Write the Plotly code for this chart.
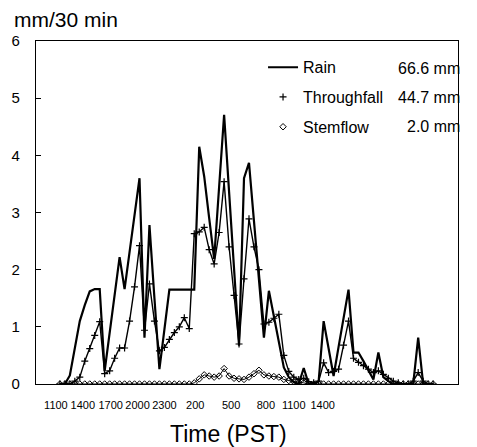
import plotly.graph_objects as go

# ---- data (30-min intervals, index 0 = 1100 PST) ----
rain = [
    0, 0, 0.15, 0.6, 1.1, 1.38, 1.62, 1.66, 1.66, 0.23,
    0.9, 1.55, 2.22, 1.66, 2.3, 2.95, 3.6, 0.81, 2.78, 1.5,
    0.26, 0.95, 1.65, 1.65, 1.65, 1.65, 1.65, 1.65, 4.15, 3.63,
    2.9, 2.19, 3.45, 4.71, 3.36, 2.0, 0.67, 3.6, 3.87, 2.85,
    1.83, 0.81, 1.63, 1.18, 0.74, 0.29, 0.12, 0.03, 0.0, 0.28,
    0.0, 0.0, 0.05, 1.1, 0.62, 0.14, 0.65, 1.15, 1.65, 0.55,
    0.55, 0.4, 0.25, 0.08, 0.55, 0.12, 0.05, 0, 0, 0,
    0, 0, 0.81, 0, 0, 0,
]
throughfall = [
    0, 0, 0, 0.05, 0.12, 0.4, 0.62, 0.85, 1.09, 0.18,
    0.23, 0.45, 0.63, 0.63, 1.1, 1.7, 2.42, 0.94, 1.75, 1.1,
    0.58, 0.64, 0.78, 0.9, 1.0, 1.16, 0.97, 2.63, 2.66, 2.74,
    2.35, 2.1, 2.65, 3.54, 2.4, 1.55, 0.7, 1.84, 2.89, 2.4,
    2.0, 1.05, 1.08, 1.15, 1.22, 0.5, 0.22, 0.12, 0.08, 0.1,
    0.04, 0.02, 0.05, 0.37, 0.2, 0.22, 0.26, 0.68, 1.1, 0.45,
    0.38, 0.32, 0.26, 0.2, 0.23, 0.17, 0.1, 0.05, 0.02, 0,
    0, 0.05, 0.2, 0.05, 0, 0,
]
stemflow = [
    0, 0, 0, 0, 0, 0, 0, 0, 0, 0,
    0, 0, 0, 0, 0, 0, 0, 0, 0, 0,
    0, 0, 0, 0, 0, 0, 0, 0.02, 0.09, 0.16,
    0.14, 0.12, 0.14, 0.27, 0.14, 0.1, 0.09, 0.08, 0.12, 0.18,
    0.24, 0.16, 0.14, 0.13, 0.12, 0.08, 0.06, 0.04, 0.03, 0.02,
    0, 0, 0, 0, 0, 0, 0, 0, 0, 0,
    0, 0, 0, 0, 0, 0, 0, 0, 0, 0,
    0, 0, 0, 0, 0, 0,
]
series_names = ["Rain", "Throughfall", "Stemflow"]
series_totals = ["66.6 mm", "44.7 mm", "2.0 mm"]
tick_labels = ["1100", "1400", "1700", "2000", "2300", "200", "500", "800", "1100", "1400"]
tick_at = [-0.8, 4.6, 10.2, 15.6, 21.0, 27.2, 34.4, 41.4, 47.0, 52.8]

x = list(range(len(rain)))
FONT = "Liberation Sans, Arial, Helvetica, sans-serif"

fig = go.Figure()
fig.add_trace(go.Scatter(x=x, y=stemflow, mode="lines+markers", showlegend=False,
                         line=dict(color="black", width=1),
                         marker=dict(symbol="diamond-open", size=5, color="black",
                                     line=dict(width=1, color="black"))))
fig.add_trace(go.Scatter(x=x, y=throughfall, mode="lines+markers", showlegend=False,
                         line=dict(color="black", width=1.4),
                         marker=dict(symbol="cross-thin", size=5, color="black",
                                     line=dict(width=1.2, color="black"))))
fig.add_trace(go.Scatter(x=x, y=rain, mode="lines", showlegend=False,
                         line=dict(color="black", width=2.2)))

# legend keys
fig.add_trace(go.Scatter(x=[None], y=[None], mode="lines", name=series_names[0],
                         legendgroup="a", line=dict(color="black", width=2)))
fig.add_trace(go.Scatter(x=[None], y=[None], mode="markers", name=series_names[1],
                         legendgroup="b",
                         marker=dict(symbol="cross-thin", size=5, color="black",
                                     line=dict(width=1.2, color="black"))))
fig.add_trace(go.Scatter(x=[None], y=[None], mode="markers", name=series_names[2],
                         legendgroup="c",
                         marker=dict(symbol="diamond-open", size=5, color="black",
                                     line=dict(width=1, color="black"))))

row_y = [0.921, 0.836, 0.752]
for tot, yy in zip(series_totals, row_y):
    fig.add_annotation(text=tot, xref="paper", yref="paper", x=1.010, y=yy,
                       xanchor="right", yanchor="middle", showarrow=False,
                       font=dict(size=16, color="black", family=FONT))

fig.add_annotation(text="mm/30 min", xref="paper", yref="paper", x=-0.056, y=1.064,
                   xanchor="left", yanchor="middle", showarrow=False,
                   font=dict(size=21, color="black", family=FONT))
fig.add_annotation(text="Time (PST)", xref="paper", yref="paper", x=0.455, y=-0.146,
                   xanchor="center", yanchor="middle", showarrow=False,
                   font=dict(size=23, color="black", family=FONT))

fig.update_layout(
    width=477, height=447,
    margin=dict(l=34, r=19, t=41, b=63),
    paper_bgcolor="white", plot_bgcolor="white",
    font=dict(family=FONT, color="black"),
    showlegend=True,
    legend=dict(x=0.538, y=0.973, xanchor="left", yanchor="top",
                bgcolor="rgba(0,0,0,0)", font=dict(size=16, color="black", family=FONT),
                tracegroupgap=6, itemwidth=30),
)
fig.update_xaxes(range=[-4.8, 80], tickvals=tick_at, ticktext=tick_labels,
                 showgrid=False, zeroline=False, showline=True, linecolor="black",
                 linewidth=1.2, mirror=True, ticks="", ticklabelstandoff=11,
                 tickangle=0,
                 tickfont=dict(size=11, color="black", family=FONT))
fig.update_yaxes(range=[0, 6], tickvals=[0, 1, 2, 3, 4, 5, 6],
                 showgrid=False, zeroline=False, showline=True, linecolor="black",
                 linewidth=1.2, mirror=True, ticks="inside", ticklen=5, tickcolor="black",
                 ticklabelstandoff=12,
                 tickfont=dict(size=15, color="black", family=FONT))

fig.write_html("out.html")
